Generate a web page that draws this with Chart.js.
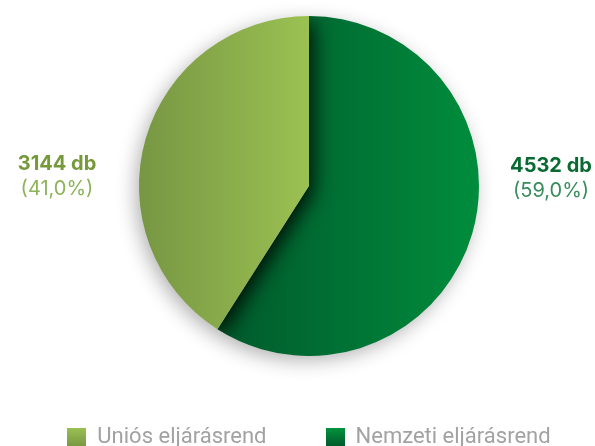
<!DOCTYPE html>
<html>
<head>
<meta charset="utf-8">
<script src="https://cdn.jsdelivr.net/npm/chart.js@4/dist/chart.umd.min.js"></script>
<style>
  html, body { margin: 0; padding: 0; overflow: hidden; background: #fff; }
</style>
</head>
<body>
<!-- canvas a bit larger than the window; the reference crops the legend at the bottom -->
<canvas id="pie" width="616" height="458"></canvas>
<script>
'use strict'

// data (Nemzeti first so it starts at 12 o'clock)
const categories = ['Nemzeti eljárásrend', 'Uniós eljárásrend'];
const counts = [4532, 3144];
const shares = [59.0, 41.0];

const LABEL_FONT = 'Inter, "Liberation Sans", sans-serif';
const LEGEND_FONT = 'Roboto, "Liberation Sans", sans-serif';

// small gradient squares for the legend
function swatch(top, bottom) {
  const c = document.createElement('canvas');
  c.width = 19;
  c.height = 19;
  const x = c.getContext('2d');
  const g = x.createLinearGradient(0, 0, 0, 19);
  g.addColorStop(0, top);
  g.addColorStop(1, bottom);
  x.fillStyle = g;
  x.fillRect(0, 0, 19, 19);
  return c;
}
const swatches = [swatch('#00953f', '#005a2a'), swatch('#9bc152', '#789843')];

function sliceFill(ctx) {
  const area = ctx.chart.chartArea;
  if (!area) return '#888';
  const cx = (area.left + area.right) / 2;
  const g = ctx.chart.ctx.createLinearGradient(cx - 170, 0, cx + 170, 0);
  if (ctx.dataIndex === 0) {
    g.addColorStop(0.2, '#00582c');
    g.addColorStop(0.55, '#006e33');
    g.addColorStop(1, '#008d3c');
  } else {
    g.addColorStop(0, '#779643');
    g.addColorStop(0.5, '#9bc152');
    g.addColorStop(1, '#9bc152');
  }
  return g;
}

function slicePath(ctx, arc, dx) {
  ctx.beginPath();
  ctx.moveTo(arc.x + dx, arc.y);
  ctx.arc(arc.x + dx, arc.y, arc.outerRadius, arc.startAngle, arc.endAngle);
  ctx.closePath();
}

// drop shadow round the pie, and the Uniós slice casting onto Nemzeti
const shadowPlugin = {
  id: 'pieShadow',
  beforeDatasetsDraw(chart) {
    const ctx = chart.ctx;
    const arc = chart.getDatasetMeta(0).data[0];
    ctx.save();
    ctx.shadowColor = 'rgba(0, 0, 0, 0.32)';
    ctx.shadowBlur = 20;
    ctx.shadowOffsetX = -4;
    ctx.shadowOffsetY = 5;
    ctx.fillStyle = '#fff';
    ctx.beginPath();
    ctx.arc(arc.x, arc.y, arc.outerRadius - 1, 0, Math.PI * 2);
    ctx.fill();
    ctx.restore();
  },
  afterDatasetsDraw(chart) {
    const ctx = chart.ctx;
    const [nem, uni] = chart.getDatasetMeta(0).data;
    ctx.save();
    slicePath(ctx, nem, 0);
    ctx.clip();
    ctx.shadowColor = 'rgba(0, 16, 5, 1)';
    ctx.shadowBlur = 20;
    ctx.shadowOffsetX = 3004;
    ctx.shadowOffsetY = 6;
    ctx.fillStyle = '#000';
    slicePath(ctx, uni, -3000);
    ctx.fill();
    ctx.restore();
  }
};

// count + percentage beside the pie
const sideLabels = {
  id: 'sideLabels',
  afterDraw(chart) {
    const ctx = chart.ctx;
    const arc = chart.getDatasetMeta(0).data[0];
    const cx = arc.x, cy = arc.y;
    const spots = [
      { x: cx + 242, y: cy - 20, gap: 24.5, strong: '#0a6a32', soft: '#3a8c5c' },
      { x: cx - 252, y: cy - 22.5, gap: 25.5, strong: '#76993b', soft: '#8db35a' }
    ];
    ctx.save();
    ctx.textAlign = 'center';
    ctx.textBaseline = 'middle';
    spots.forEach((s, i) => {
      ctx.font = 'bold 20px ' + LABEL_FONT;
      ctx.fillStyle = s.strong;
      ctx.fillText(counts[i] + ' db', s.x, s.y);
      ctx.font = '20px ' + LABEL_FONT;
      ctx.fillStyle = s.soft;
      ctx.fillText('(' + shares[i].toFixed(1).replace('.', ',') + '%)', s.x, s.y + s.gap);
    });
    ctx.restore();
  }
};

new Chart(document.getElementById('pie'), {
  type: 'pie',
  data: {
    labels: categories,
    datasets: [{
      data: counts,
      backgroundColor: sliceFill,
      borderWidth: 0,
      hoverOffset: 0,
      radius: 170
    }]
  },
  options: {
    responsive: false,
    animation: false,
    events: [],
    layout: { padding: { top: 5, left: 2 } },
    plugins: {
      tooltip: { enabled: false },
      legend: {
        position: 'bottom',
        labels: {
          usePointStyle: true,
          pointStyleWidth: 19,
          boxHeight: 19,
          padding: 59,
          color: '#a2a2a2',
          font: { size: 22, family: LEGEND_FONT },
          generateLabels: () => [1, 0].map(i => ({
            text: categories[i],
            pointStyle: swatches[i],
            fillStyle: '#888',
            fontColor: '#a2a2a2',
            lineWidth: 0,
            hidden: false,
            index: i
          }))
        }
      }
    }
  },
  plugins: [shadowPlugin, sideLabels]
});
</script>
</body>
</html>
